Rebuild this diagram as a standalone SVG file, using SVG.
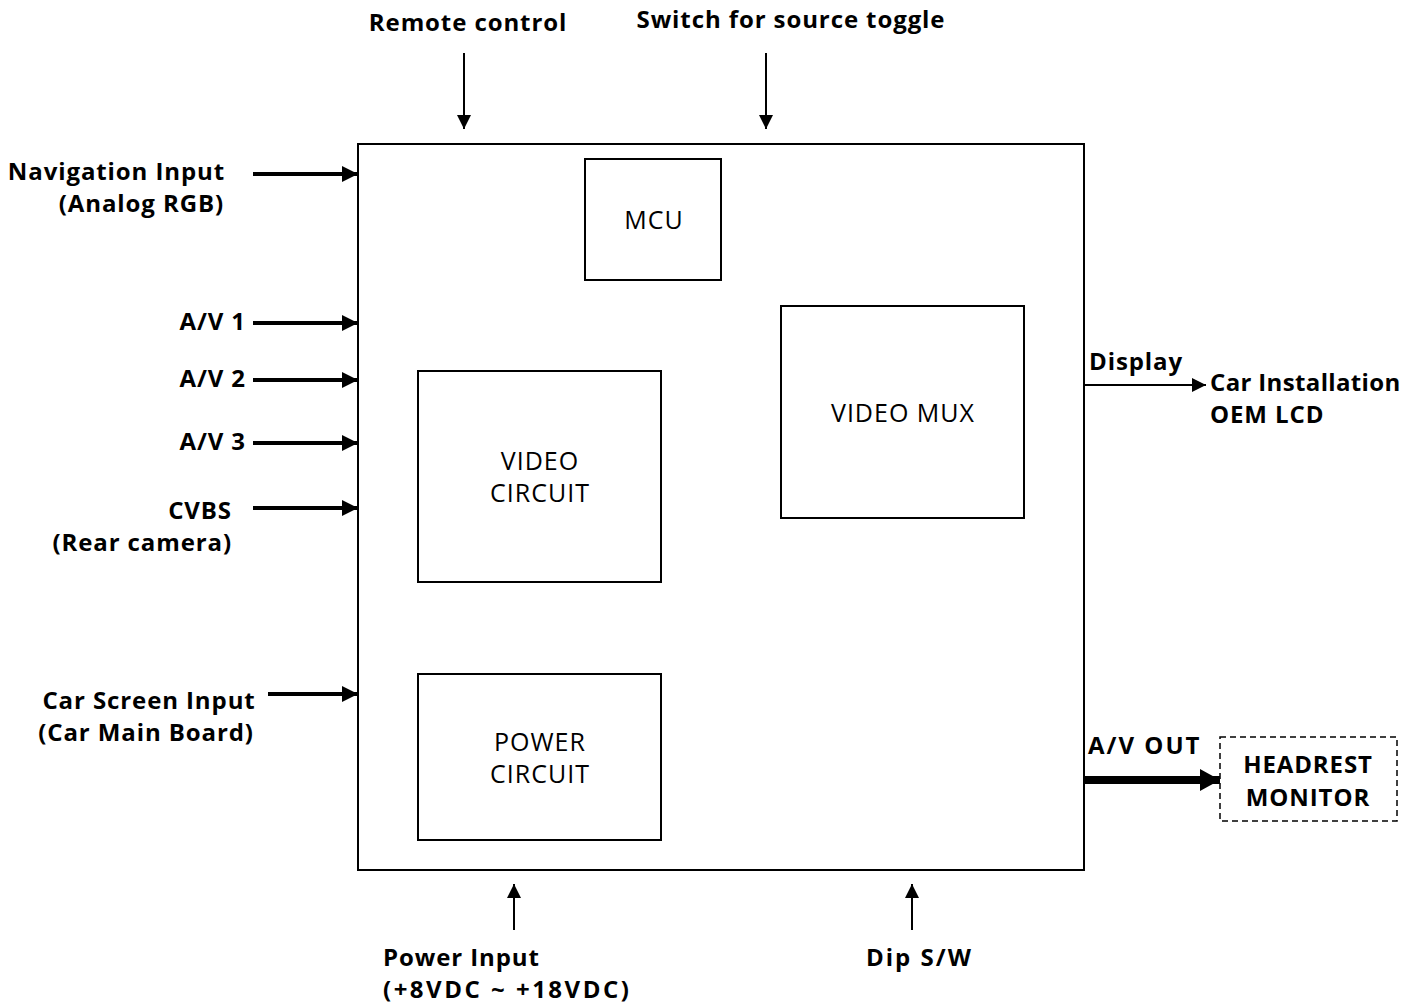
<svg xmlns="http://www.w3.org/2000/svg" width="1407" height="1005" viewBox="0 0 1407 1005">
<defs>
<style>
.b{font-family:"Open Sans","Noto Sans",sans-serif;font-weight:bold;font-size:24px;letter-spacing:0.9px;fill:#000}
.r{font-family:"Open Sans","Noto Sans",sans-serif;font-size:25px;letter-spacing:1px;fill:#000;text-anchor:middle}
.box{fill:#fff;stroke:#000;stroke-width:2}
.thick{stroke:#000;stroke-width:4;fill:none}
.thin{stroke:#000;stroke-width:2;fill:none}
</style>
<marker id="ah2" markerWidth="16" markerHeight="16" refX="16" refY="8" orient="auto" markerUnits="userSpaceOnUse" viewBox="0 0 16 16"><path d="M0,0 L16,8 L0,16 Z" fill="#000"/></marker>
<marker id="ah3" markerWidth="20" markerHeight="22" refX="20" refY="11" orient="auto" markerUnits="userSpaceOnUse" viewBox="0 0 20 22"><path d="M0,0 L20,11 L0,22 Z" fill="#000"/></marker>
<marker id="ah4" markerWidth="14" markerHeight="14" refX="14" refY="7" orient="auto" markerUnits="userSpaceOnUse" viewBox="0 0 14 14"><path d="M0,0 L14,7 L0,14 Z" fill="#000"/></marker>
</defs>
<rect width="1407" height="1005" fill="#fff"/>
<g id="main"><rect class="box" x="358" y="144" width="726" height="726"/></g>
<g id="mcu"><rect class="box" x="585" y="159" width="136" height="121"/><text class="r" x="654" y="229">MCU</text></g>
<g id="videomux"><rect class="box" x="781" y="306" width="243" height="212"/><text class="r" x="903" y="422">VIDEO MUX</text></g>
<g id="videocircuit"><rect class="box" x="418" y="371" width="243" height="211"/><text class="r" x="540" y="470">VIDEO</text><text class="r" x="540" y="502">CIRCUIT</text></g>
<g id="powercircuit"><rect class="box" x="418" y="674" width="243" height="166"/><text class="r" x="540" y="751">POWER</text><text class="r" x="540" y="783">CIRCUIT</text></g>
<g id="headrest"><rect x="1220" y="737" width="177" height="84" fill="#fff" stroke="#000" stroke-width="1.5" stroke-dasharray="6,4"/><text class="b" x="1308" y="773" text-anchor="middle">HEADREST</text><text class="b" x="1308" y="806" text-anchor="middle">MONITOR</text></g>
<g id="connectors">
<line class="thick" x1="253" y1="174" x2="358" y2="174" marker-end="url(#ah2)"/>
<line class="thick" x1="253" y1="323" x2="358" y2="323" marker-end="url(#ah2)"/>
<line class="thick" x1="253" y1="380" x2="358" y2="380" marker-end="url(#ah2)"/>
<line class="thick" x1="253" y1="443" x2="358" y2="443" marker-end="url(#ah2)"/>
<line class="thick" x1="253" y1="508" x2="358" y2="508" marker-end="url(#ah2)"/>
<line class="thick" x1="268" y1="694" x2="358" y2="694" marker-end="url(#ah2)"/>
<line class="thin" x1="464" y1="53" x2="464" y2="129" marker-end="url(#ah4)"/>
<line class="thin" x1="766" y1="53" x2="766" y2="129" marker-end="url(#ah4)"/>
<line class="thin" x1="514" y1="930" x2="514" y2="884" marker-end="url(#ah4)"/>
<line class="thin" x1="912" y1="930" x2="912" y2="884" marker-end="url(#ah4)"/>
<line class="thin" x1="1084" y1="385" x2="1206" y2="385" marker-end="url(#ah4)"/>
<line stroke="#000" stroke-width="8" x1="1084" y1="780" x2="1220" y2="780" marker-end="url(#ah3)"/>
</g>
<g id="labels">
<text class="b" x="468" y="31" text-anchor="middle">Remote control</text>
<text class="b" x="791" y="28" text-anchor="middle">Switch for source toggle</text>
<text class="b" x="225" y="180" text-anchor="end">Navigation Input</text>
<text class="b" x="224" y="212" text-anchor="end">(Analog RGB)</text>
<text class="b" x="246" y="330" text-anchor="end">A/V 1</text>
<text class="b" x="246" y="387" text-anchor="end">A/V 2</text>
<text class="b" x="246" y="450" text-anchor="end">A/V 3</text>
<text class="b" x="232" y="519" text-anchor="end">CVBS</text>
<text class="b" x="232" y="551" text-anchor="end">(Rear camera)</text>
<text class="b" x="149" y="709" text-anchor="middle">Car Screen Input</text>
<text class="b" x="146" y="741" text-anchor="middle">(Car Main Board)</text>
<text class="b" x="1089" y="370">Display</text>
<text class="b" x="1210" y="391" style="letter-spacing:0.35px">Car Installation</text>
<text class="b" x="1210" y="423">OEM LCD</text>
<text class="b" x="1088" y="754" style="letter-spacing:2px">A/V OUT</text>
<text class="b" x="383" y="966">Power Input</text>
<text class="b" x="383" y="998" style="letter-spacing:2.5px">(+8VDC ~ +18VDC)</text>
<text class="b" x="866" y="966" style="letter-spacing:2px">Dip S/W</text>
</g>
</svg>
